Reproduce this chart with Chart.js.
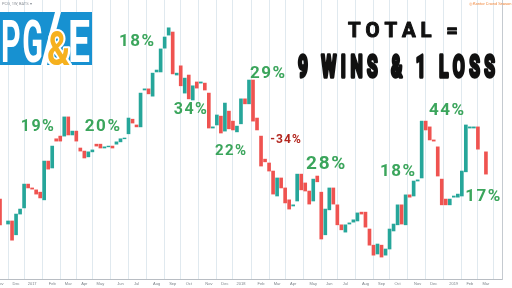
<!DOCTYPE html>
<html>
<head>
<meta charset="utf-8">
<script src="https://cdn.jsdelivr.net/npm/chart.js@4.4.1/dist/chart.umd.min.js"></script>
<style>
  html, body { margin: 0; padding: 0; background: #fff; }
  #wrap { width: 512px; height: 288px; }
</style>
</head>
<body>
<div id="wrap"><canvas id="chart" width="512" height="288"></canvas></div>
<script>
// weekly candles, first week of Nov 2016 to Mar 2019 (+ empty weeks on the right)
const weekCount = 126;

const openVals = [
  9920, null, 9270, 9350, 8990, 9530, 9690, 10310, 10210, 10160,
  10100, 9900, 10910, 10730, 11490, 11560, 11560, 12060, 11590, 11690,
  11250, 11170, 11020, 11150, 11350, 11350, 11250, 11280, 11300, 11350,
  11410, 11490, 11620, 12000, 11850, 11800, 12760, 12790, 12600, 13230,
  13230, 13850, 14190, 14270, 13150, 13390, 12680, 13150, 12500, 12970,
  12940, 12940, 12680, 11770, 11850, 12080, 11690, 12210, 11950, 11670,
  11880, 12530, 12400, 13020, 12030, 11560, 10960, 10860, 10650, 10000,
  10470, 10210, 9900, 9740, 9870, 10570, 10340, 10130, 9870, 10520,
  10100, 8990, 9640, 10210, 9770, 9250, 9060, 9270, 9320, 9350,
  9580, 9580, 9140, 8720, 8490, 8720, 8460, 8620, 9090, 9250,
  9770, 9250, 10030, 10000, 10390, 10470, 11950, 11800, 11460, 11280,
  10440, 9920, 9770, 9970, 9970, 10000, 10630, 11770, 11770, 11800,
  null, 11150, null, null, null, null,
];

const closeVals = [
  9250, null, 9350, 8850, 9530, 9660, 10310, 10210, 10180, 10050,
  9950, 10910, 10700, 11300, 11430, 11430, 12060, 11590, 11690, 11430,
  11170, 10990, 11150, 11200, 11300, 11250, 11280, 11300, 11250, 11410,
  11490, 11510, 12030, 11900, 11800, 12680, 12790, 12660, 13200, 13280,
  13830, 14140, 14380, 13180, 13200, 12870, 13070, 12530, 12870, 12810,
  12970, 12760, 11770, 11800, 12110, 11640, 12420, 11750, 11720, 11820,
  12530, 12400, 13020, 11950, 11720, 10780, 10890, 10650, 10050, 10470,
  10210, 9820, 9660, 9770, 10570, 10160, 10130, 9790, 10440, 10370,
  8880, 9660, 10210, 9790, 9250, 9120, 9250, 9300, 9380, 9560,
  9530, 9190, 8720, 8460, 8750, 8410, 8620, 9140, 9270, 9770,
  9270, 10030, 9970, 10390, 10420, 11950, 11720, 11460, 11430, 10520,
  9770, 9770, 9920, 10000, 10050, 10650, 11850, 11800, 11800, 11220,
  null, 10570, null, null, null, null,
];

// month labels on the time axis (week index of first candle in the month)
const tickWeeks = [0, 4, 8, 13, 17, 21, 25, 30, 34, 39, 43, 47, 52, 56, 60,
  65, 69, 73, 78, 82, 86, 91, 95, 99, 104, 108, 113, 117, 121];
const tickNames = ['Nov', 'Dec', '2017', 'Feb', 'Mar', 'Apr', 'May', 'Jun', 'Jul', 'Aug', 'Sep', 'Oct', 'Nov', 'Dec', '2018',
  'Feb', 'Mar', 'Apr', 'May', 'Jun', 'Jul', 'Aug', 'Sep', 'Oct', 'Nov', 'Dec', '2019', 'Feb', 'Mar'];

const yMin = 7839;
const yMax = 15104;
const yStep = 250;

// percentage call-outs, placed in chart coordinates (week, value)
const noteTexts = ['19%', '20%', '18%', '34%', '22%', '29%', '-34%', '28%', '18%', '44%', '17%'];
const noteWeeks = [9.3, 25.5, 34, 47.4, 57.4, 66.6, 71.1, 81.1, 99, 111.2, 120.2];
const noteValues = [11850, 11850, 14060, 12290, 11220, 13230, 11490, 10890, 10680, 12270, 10030];
const noteSizes = [16, 17, 17, 16, 15, 17, 12, 19, 17, 17, 17];

const UP = '#26a69a';
const DOWN = '#ef5350';
const GREEN = '#3ba55c';
const GRID = 'rgba(214,226,234,0.75)';

function spacedWidth(ctx, text, sp) {
  let w = 0;
  for (const ch of text) w += ctx.measureText(ch).width;
  return w + sp * (text.length - 1);
}

function drawSpaced(ctx, text, x, y, sp) {
  for (const ch of text) {
    ctx.fillText(ch, x, y);
    x += ctx.measureText(ch).width + sp;
  }
}

// squeeze a spaced string into the box x1..x2
function drawFitted(ctx, text, x1, x2, base, font, sp, color, stroke) {
  ctx.save();
  ctx.font = font;
  ctx.fillStyle = color;
  ctx.textAlign = 'left';
  ctx.textBaseline = 'alphabetic';
  const w = spacedWidth(ctx, text, sp);
  ctx.translate(x1, base);
  ctx.scale((x2 - x1) / w, 1);
  if (stroke) {
    ctx.strokeStyle = color;
    ctx.lineWidth = stroke;
    ctx.lineJoin = 'round';
  }
  let x = 0;
  for (const ch of text) {
    ctx.fillText(ch, x, 0);
    if (stroke) ctx.strokeText(ch, x, 0);
    x += ctx.measureText(ch).width + sp;
  }
  ctx.restore();
}

const notesPlugin = {
  id: 'notes',
  afterDatasetsDraw(chart) {
    const { ctx, scales: { x, y } } = chart;
    ctx.save();
    ctx.textAlign = 'left';
    ctx.textBaseline = 'alphabetic';
    noteTexts.forEach((t, i) => {
      const size = noteSizes[i];
      ctx.font = `bold ${size}px Roboto`;
      ctx.fillStyle = t.startsWith('-') ? '#b3261e' : GREEN;
      const sp = size * 0.09;
      const w = spacedWidth(ctx, t, sp);
      const cx = x.getPixelForValue(noteWeeks[i]);
      const cy = y.getPixelForValue(noteValues[i]);
      drawSpaced(ctx, t, cx - w / 2, cy + size * 0.36, sp);
    });
    ctx.restore();
  },
  afterDraw(chart) {
    const ctx = chart.ctx;
    ctx.save();
    // PG&E logo
    ctx.fillStyle = '#1791d1';
    ctx.fillRect(0, 12, 92, 53);
    ctx.fillStyle = '#fff';
    ctx.beginPath();
    ctx.moveTo(55, 12); ctx.lineTo(61, 12); ctx.lineTo(47, 65); ctx.lineTo(41, 65);
    ctx.closePath();
    ctx.fill();
    drawFitted(ctx, 'PG', 1, 43, 62, 'bold 59px Roboto', 3, '#fff');
    drawFitted(ctx, 'E', 68, 90, 62, 'bold 59px Roboto', 0, '#fff');
    drawFitted(ctx, '&', 46, 71, 65, 'bold 48px Roboto', 0, '#fff', 4);
    drawFitted(ctx, '&', 47, 70, 65, 'bold 48px Roboto', 0, '#f6b11e');

    // headline
    drawFitted(ctx, 'TOTAL =', 348, 458, 37, 'bold 21px Roboto', 5, '#111', 1);
    drawFitted(ctx, '9 WINS & 1 LOSS', 298, 495, 77, 'bold 31px Roboto', 8, '#111', 3.4);

    // small header texts
    ctx.font = '4px Roboto';
    ctx.textBaseline = 'middle';
    ctx.fillStyle = '#8a8f96';
    ctx.fillText('PCG, 1W, BATS \u25BE', 2, 4);
    ctx.fillStyle = '#f0873c';
    ctx.fillText('\u25CE Kantor Crowd Season', 469, 4);
    ctx.restore();
  },
};

new Chart(document.getElementById('chart'), {
  type: 'bar',
  data: {
    labels: Array.from({ length: weekCount }, (_, i) => 'W' + i),
    datasets: [{
      data: openVals.map((o, i) => (o == null ? null : [o, closeVals[i]])),
      backgroundColor: openVals.map((o, i) => (closeVals[i] >= o ? UP : DOWN)),
      barThickness: 3,
      borderWidth: 0,
    }],
  },
  options: {
    responsive: false,
    animation: false,
    layout: { padding: 0 },
    plugins: {
      legend: { display: false },
      tooltip: { enabled: false },
    },
    scales: {
      x: {
        offset: false,
        grid: { color: GRID, drawTicks: false },
        border: { color: '#b8bdc3' },
        ticks: {
          autoSkip: false,
          maxRotation: 0,
          padding: 2,
          color: '#7d838a',
          font: { size: 4 },
          callback: (v, i) => {
            const j = tickWeeks.indexOf(i);
            return j < 0 ? null : tickNames[j];
          },
        },
        afterFit: s => { s.height = 9; s.paddingLeft = 0; s.paddingRight = 0; },
      },
      y: {
        position: 'right',
        min: yMin,
        max: yMax,
        grid: { color: GRID, drawTicks: false },
        border: { color: '#c5cad0' },
        ticks: {
          stepSize: yStep,
          padding: 1,
          color: '#7d838a',
          font: { size: 4 },
          callback: v => v.toLocaleString('de-DE'),
        },
        afterBuildTicks: s => { s.ticks = s.ticks.filter(t => t.value % yStep === 0); },
        afterFit: s => { s.width = 10; s.paddingTop = 0; s.paddingBottom = 0; },
      },
    },
  },
  plugins: [notesPlugin],
});
</script>
</body>
</html>
